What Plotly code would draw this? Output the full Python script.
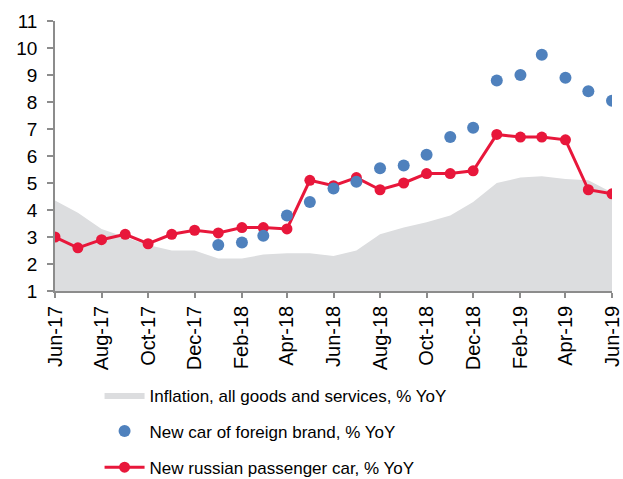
import plotly.graph_objects as go

months = ["2017-06-01", "2017-07-01", "2017-08-01", "2017-09-01", "2017-10-01",
          "2017-11-01", "2017-12-01", "2018-01-01", "2018-02-01", "2018-03-01",
          "2018-04-01", "2018-05-01", "2018-06-01", "2018-07-01", "2018-08-01",
          "2018-09-01", "2018-10-01", "2018-11-01", "2018-12-01", "2019-01-01",
          "2019-02-01", "2019-03-01", "2019-04-01", "2019-05-01", "2019-06-01"]

inflation = [4.35, 3.9, 3.3, 3.0, 2.7, 2.5, 2.5, 2.2, 2.2, 2.35, 2.4, 2.4, 2.3,
             2.5, 3.1, 3.35, 3.55, 3.8, 4.3, 5.0, 5.2, 5.25, 5.15, 5.1, 4.65]

foreign_months = months[7:]
foreign_car = [2.7, 2.8, 3.05, 3.8, 4.3, 4.8, 5.05, 5.55, 5.65, 6.05, 6.7, 7.05,
               8.8, 9.0, 9.75, 8.9, 8.4, 8.05]

russian_car = [3.0, 2.6, 2.9, 3.1, 2.75, 3.1, 3.25, 3.15, 3.35, 3.35, 3.3, 5.1,
               4.9, 5.2, 4.75, 5.0, 5.35, 5.35, 5.45, 6.8, 6.7, 6.7, 6.6, 4.75, 4.6]

GREY = "#dcdddf"
BLUE = "#4f81bd"
RED = "#e8173b"
AXIS = "#8c8c8c"
FONT = "Liberation Sans, Arial, sans-serif"

fig = go.Figure()
fig.add_trace(go.Scatter(
    x=months, y=inflation, mode="lines", fill="tozeroy",
    line=dict(width=0, color=GREY), fillcolor=GREY,
    name="Inflation, all goods and services, % YoY",
    legendgroup="a", legendrank=1,
))
fig.add_trace(go.Scatter(
    x=months, y=russian_car, mode="lines+markers",
    line=dict(width=3, color=RED), marker=dict(size=11, color=RED),
    name="New russian passenger car, % YoY",
    legendgroup="c", legendrank=3,
))
fig.add_trace(go.Scatter(
    x=foreign_months, y=foreign_car, mode="markers",
    marker=dict(size=12, color=BLUE),
    name="New car of foreign brand, % YoY",
    legendgroup="b", legendrank=2,
))

fig.update_layout(
    width=623, height=479,
    margin=dict(l=55, r=11, t=21, b=188, autoexpand=False),
    paper_bgcolor="white", plot_bgcolor="white",
    font=dict(family=FONT, color="black", size=17),
    legend=dict(
        orientation="v", x=0.08, xanchor="left",
        y=0.212, yref="container", yanchor="top",
        font=dict(size=17), itemwidth=40, tracegroupgap=11,
        bgcolor="rgba(0,0,0,0)",
    ),
    showlegend=True,
)
fig.update_xaxes(
    type="date", range=["2017-06-01", "2019-06-01"], automargin=False,
    tick0="2017-06-01", dtick="M2", tickformat="%b-%y", tickangle=-90,
    tickfont=dict(size=20), showgrid=False, zeroline=False,
    showline=True, linecolor=AXIS, linewidth=1.5,
    ticks="outside", ticklen=5, tickcolor=AXIS, tickwidth=1.5,
)
fig.update_yaxes(
    range=[1, 11], dtick=1, tickfont=dict(size=19), automargin=False,
    showgrid=False, zeroline=False, ticklabelstandoff=6,
    showline=True, linecolor=AXIS, linewidth=1.5,
    ticks="outside", ticklen=6, tickcolor=AXIS, tickwidth=1.5,
)

fig.write_html("out.html")
